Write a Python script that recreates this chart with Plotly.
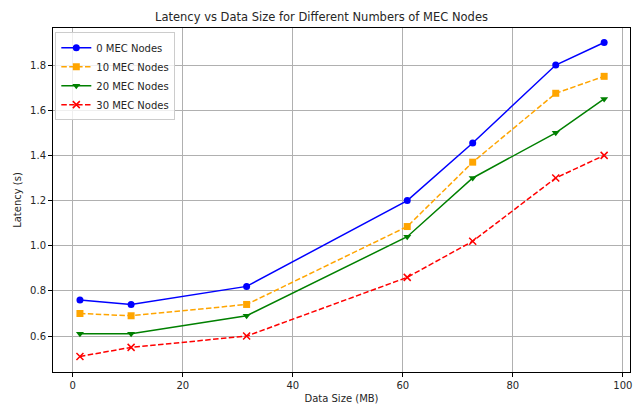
import plotly.graph_objects as go

data_size = [1.3, 10.6, 31.6, 60.8, 72.7, 87.8, 96.6]
lat_0 = [0.76, 0.74, 0.82, 1.20, 1.455, 1.80, 1.90]
lat_10 = [0.70, 0.69, 0.74, 1.085, 1.37, 1.675, 1.75]
lat_20 = [0.61, 0.61, 0.69, 1.04, 1.30, 1.50, 1.65]
lat_30 = [0.51, 0.55, 0.60, 0.86, 1.02, 1.30, 1.40]

series = [
    ("0 MEC Nodes", lat_0, "blue", "solid", "circle"),
    ("10 MEC Nodes", lat_10, "orange", "5.5px,2.4px", "square"),
    ("20 MEC Nodes", lat_20, "green", "solid", "triangle-down"),
    ("30 MEC Nodes", lat_30, "red", "5.5px,2.4px", "x-thin-open"),
]

fig = go.Figure()
for name, ys, color, dash, sym in series:
    marker = dict(symbol=sym, size=7, color=color)
    if sym == "x-thin-open":
        marker = dict(symbol=sym, size=7, color=color, line=dict(color=color, width=1.5))
    fig.add_trace(go.Scatter(
        x=data_size, y=ys, name=name, mode="lines+markers",
        line=dict(color=color, width=1.5, dash=dash),
        marker=marker,
    ))

font = "DejaVu Sans, sans-serif"
fig.update_layout(
    width=643, height=404,
    margin=dict(l=53, r=13, t=28, b=32, autoexpand=False),
    paper_bgcolor="white", plot_bgcolor="white",
    font=dict(family=font, size=10, color="#262626"),
    title=dict(text="Latency vs Data Size for Different Numbers of MEC Nodes",
               x=0.5, xanchor="center", y=0.958, yanchor="middle",
               font=dict(size=11.5, color="#262626")),
    legend=dict(x=0.004, y=0.988, xanchor="left", yanchor="top",
                bgcolor="rgba(255,255,255,0.8)", bordercolor="#cccccc", borderwidth=1,
                font=dict(size=10), tracegroupgap=0, itemwidth=30),
    showlegend=True,
)
fig.update_xaxes(
    range=[-3.6, 101.3], tickvals=[0, 20, 40, 60, 80, 100],
    showgrid=True, gridcolor="#b0b0b0", gridwidth=0.8,
    showline=True, linecolor="black", linewidth=1, mirror=True,
    ticks="outside", ticklen=4, tickcolor="black", zeroline=False,
    automargin=False,
    title=dict(text="Data Size (MB)", standoff=4, font=dict(size=10)),
    tickfont=dict(size=10),
)
fig.update_yaxes(
    range=[0.441, 1.964], tickvals=[0.6, 0.8, 1.0, 1.2, 1.4, 1.6, 1.8],
    ticktext=["0.6", "0.8", "1.0", "1.2", "1.4", "1.6", "1.8"],
    showgrid=True, gridcolor="#b0b0b0", gridwidth=0.8,
    showline=True, linecolor="black", linewidth=1, mirror=True,
    ticks="outside", ticklen=4, tickcolor="black", zeroline=False,
    automargin=False,
    title=dict(text="Latency (s)", standoff=6, font=dict(size=10)),
    tickfont=dict(size=10),
)
fig.write_html("out.html")
